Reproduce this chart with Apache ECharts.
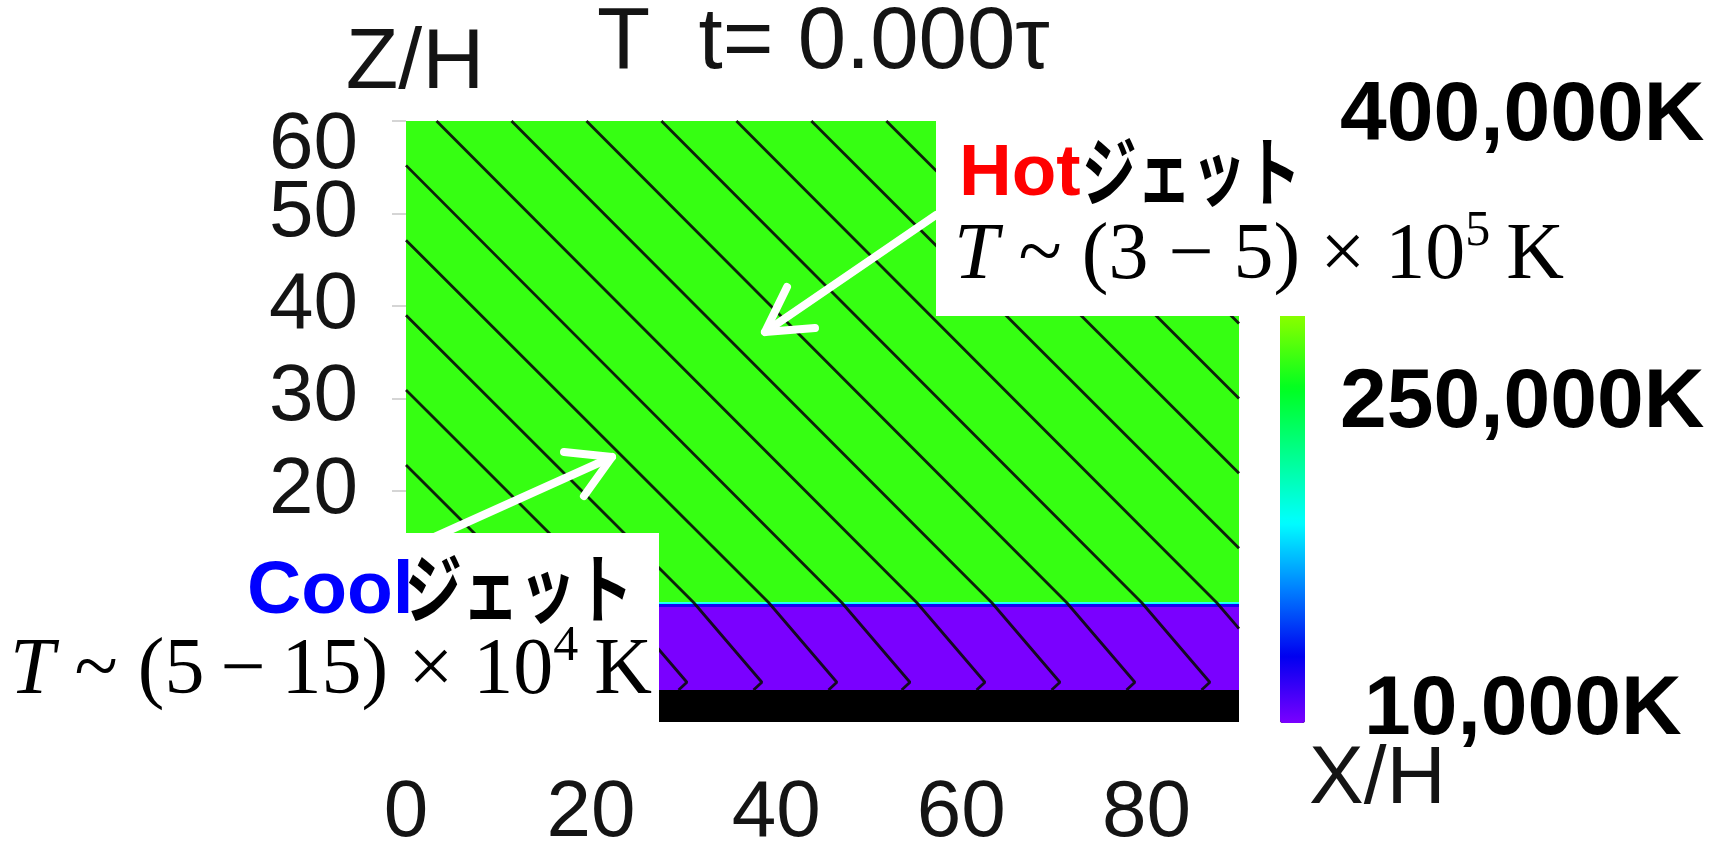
<!DOCTYPE html>
<html>
<head>
<meta charset="utf-8">
<script src="https://cdn.jsdelivr.net/npm/echarts@6/dist/echarts.min.js"></script>
<style>
html,body{margin:0;padding:0;background:#ffffff;}
#chart{width:1711px;height:845px;}
</style>
</head>
<body>
<div id="chart"></div>
<script>
// ---------- data ----------
const xTicks = [0, 20, 40, 60, 80];
const zTicks = [0, 10, 20, 30, 40, 50, 60];
const xRange = [0, 90];
const zRange = [-5, 60];

// horizontal atmosphere layers (Z/H extents) and their temperature (K)
const layerNames   = ['corona', 'transition (upper)', 'transition (lower)', 'chromosphere', 'photosphere'];
const layerTopZ    = [60,     7.95,   7.75,  7.45,  -1.55];
const layerBottomZ = [7.95,   7.75,   7.45,  -1.55, -5];
const layerTempK   = [245000, 140000, 45000, 10000, 6000];

// colour bar range and its labels
const colorbarMinK = 10000;
const colorbarMaxK = 400000;
const colorbarLabels = ['400,000K', '250,000K', '10,000K'];

// magnetic field lines: points [X/H, Z/H]
const fieldLines = [
  [[0, 6.5], [5.9, -0.7], [5.0, -1.55]],
  [[0, 14.7], [6.8, 7.9], [14.15, -0.7], [13.25, -1.55]],
  [[0, 22.8], [14.9, 7.9], [22.25, -0.7], [21.35, -1.55]],
  [[0, 30.9], [23.0, 7.9], [30.35, -0.7], [29.45, -1.55]],
  [[0, 39.0], [31.1, 7.9], [38.45, -0.7], [37.55, -1.55]],
  [[0, 47.1], [39.2, 7.9], [46.55, -0.7], [45.65, -1.55]],
  [[0, 55.2], [47.1, 7.9], [54.45, -0.7], [53.55, -1.55]],
  [[3.3, 60], [55.2, 7.9], [62.55, -0.7], [61.65, -1.55]],
  [[11.4, 60], [63.3, 7.9], [70.65, -0.7], [69.75, -1.55]],
  [[19.5, 60], [71.4, 7.9], [78.75, -0.7], [77.85, -1.55]],
  [[27.6, 60], [79.5, 7.9], [86.85, -0.7], [85.95, -1.55]],
  [[35.7, 60], [87.6, 7.9], [90, 5.1]],
  [[43.8, 60], [90, 13.8]],
  [[51.9, 60], [90, 21.9]],
  [[60.0, 60], [90, 30.0]],
  [[68.1, 60], [90, 38.1]],
  [[76.2, 60], [90, 46.2]],
  [[84.3, 60], [90, 54.3]]
];

// ---------- chart ----------
const chart = echarts.init(document.getElementById('chart'), null, {renderer: 'canvas'});
const SANS = 'Liberation Sans, Arial, Helvetica, sans-serif';
const SERIF = 'Liberation Serif, Times New Roman, serif';
const CJK = 'Noto Sans CJK JP, sans-serif';
const INK = '#141414';

const layerData = layerTopZ.map((top, i) => ({
  name: layerNames[i],
  value: [xRange[0], xRange[1], top, layerBottomZ[i], layerTempK[i]]
}));

const lineSeries = fieldLines.map((pts, i) => ({
  type: 'line',
  name: 'field line ' + (i + 1),
  data: pts,
  yAxisIndex: 0,
  showSymbol: false,
  symbol: 'none',
  clip: true,
  silent: true,
  z: 3,
  lineStyle: {color: '#0a0a0a', width: 2.8, opacity: 0.9}
}));

function labelStyle(size) {
  return {fontFamily: SANS, fontSize: size, color: INK};
}

function formulaText(x, y, text) {
  return {
    type: 'text', z: 102, x: x, y: y,
    style: {
      x: 0, y: 0, text: text, fill: '#000000', font: '80px ' + SERIF,
      lineHeight: 100, textVerticalAlign: 'middle',
      rich: {
        i: {fontFamily: SERIF, fontStyle: 'italic', fontSize: 80, lineHeight: 100, color: '#000'},
        s: {fontFamily: SERIF, fontSize: 50, lineHeight: 50, color: '#000', verticalAlign: 'top'}
      }
    }
  };
}

const zTicksLower = zTicks.filter(v => v < zRange[1]);
const zTicksTop = zTicks.filter(v => v === zRange[1]);

const option = {
  backgroundColor: '#ffffff',
  animation: false,
  title: {
    text: 'T  t= 0.000τ',
    left: 597,
    top: 1,
    padding: 0,
    textStyle: {fontFamily: SANS, fontSize: 87, fontWeight: 'normal', color: INK}
  },
  grid: {left: 406, top: 121, width: 833, height: 601, containLabel: false, outerBoundsMode: 'none'},
  xAxis: {
    type: 'value',
    min: xRange[0],
    max: xRange[1],
    axisLine: {show: false},
    splitLine: {show: false},
    axisTick: {show: true, customValues: xTicks, length: 12, lineStyle: {color: '#d5d5d5', width: 2}},
    axisLabel: Object.assign(labelStyle(80), {customValues: xTicks, margin: 52, showMinLabel: true, showMaxLabel: true, hideOverlap: false})
  },
  yAxis: [
    {
      type: 'value',
      min: zRange[0],
      max: zRange[1],
      position: 'left',
      name: 'Z/H',
      nameLocation: 'end',
      nameGap: 14,
      nameMoveOverlap: false,
      nameTextStyle: Object.assign(labelStyle(86), {padding: [0, 0, 0, 18]}),
      axisLine: {show: false},
      splitLine: {show: false},
      axisTick: {show: true, customValues: zTicks, length: 14, lineStyle: {color: '#d5d5d5', width: 2}},
      axisLabel: Object.assign(labelStyle(80), {
        customValues: zTicksLower, margin: 48, showMinLabel: true, showMaxLabel: true, hideOverlap: false
      })
    },
    {
      // top label of the same Z/H axis (drawn separately so it sits just inside the frame)
      type: 'value',
      min: zRange[0],
      max: zRange[1],
      position: 'left',
      offset: 0,
      axisLine: {show: false},
      splitLine: {show: false},
      axisTick: {show: false},
      axisLabel: Object.assign(labelStyle(80), {
        customValues: zTicksTop,
        margin: 48,
        showMinLabel: true,
        showMaxLabel: true,
        hideOverlap: false,
        formatter: function (v) { return '{top|' + v + '}'; },
        rich: {top: {fontFamily: SANS, fontSize: 80, color: INK, padding: [50, 0, 0, 0]}}
      })
    }
  ],
  visualMap: {
    type: 'continuous',
    min: colorbarMinK,
    max: colorbarMaxK,
    dimension: 4,
    seriesIndex: 0,
    orient: 'vertical',
    left: 1280,
    top: 121,
    padding: 0,
    itemWidth: 25,
    itemHeight: 602,
    calculable: false,
    hoverLink: false,
    showLabel: false,
    text: null,
    inRange: {color: ['#7a00ff', '#0000f0', '#0080ff', '#00ffff', '#00ff90', '#00ff20', '#80ff00', '#d0ff00', '#ffd000', '#ff4000']},
    outOfRange: {color: ['#000000']}
  },
  series: [
    {
      type: 'custom',
      name: 'temperature',
      coordinateSystem: 'cartesian2d',
      yAxisIndex: 0,
      data: layerData,
      encode: {x: [0, 1], y: [2, 3]},
      clip: true,
      silent: true,
      z: 1,
      renderItem: function (params, api) {
        const p1 = api.coord([api.value(0), api.value(2)]);
        const p2 = api.coord([api.value(1), api.value(3)]);
        const t = api.value(4);
        const fill = (t < colorbarMinK) ? '#000000' : api.visual('color');
        return {
          type: 'rect',
          shape: {x: p1[0], y: p1[1], width: p2[0] - p1[0], height: p2[1] - p1[1]},
          style: {fill: fill}
        };
      }
    }
  ].concat(lineSeries),
  graphic: [
    // annotation boxes
    {type: 'rect', z: 100, shape: {x: 0, y: 533, width: 659, height: 200}, style: {fill: '#ffffff'}},
    {type: 'rect', z: 100, shape: {x: 936, y: 115, width: 377, height: 201}, style: {fill: '#ffffff'}},
    // arrows
    {type: 'polyline', z: 101, shape: {points: [[936, 215], [765, 332]]},
      style: {stroke: '#ffffff', lineWidth: 8, lineCap: 'round', fill: null}},
    {type: 'polyline', z: 101, shape: {points: [[787, 287], [765, 332], [815, 328]]},
      style: {stroke: '#ffffff', lineWidth: 8, lineCap: 'round', lineJoin: 'round', fill: null}},
    {type: 'polyline', z: 99, shape: {points: [[430, 539], [612, 457]]},
      style: {stroke: '#ffffff', lineWidth: 8, lineCap: 'round', fill: null}},
    {type: 'polyline', z: 101, shape: {points: [[564, 452], [612, 457], [584, 496]]},
      style: {stroke: '#ffffff', lineWidth: 8, lineCap: 'round', lineJoin: 'round', fill: null}},
    // Hot label
    {type: 'text', z: 102, x: 959, y: 175,
      style: {x: 0, y: 0, text: 'Hot', fill: '#ff0000', font: 'bold 73px ' + SANS, textVerticalAlign: 'middle'}},
    {type: 'text', z: 102, x: 1082, y: 171, scaleX: 0.72,
      style: {x: 0, y: 0, text: 'ジェット', fill: '#000000', font: 'bold 76px ' + CJK, textVerticalAlign: 'middle'}},
    formulaText(954, 257, '{i|T} ~ (3 − 5) × 10{s|5}\u2009K'),
    // Cool label
    {type: 'text', z: 102, x: 247, y: 592,
      style: {x: 0, y: 0, text: 'Cool', fill: '#0000ff', font: 'bold 75px ' + SANS, textVerticalAlign: 'middle'}},
    {type: 'text', z: 102, x: 405, y: 588, scaleX: 0.75,
      style: {x: 0, y: 0, text: 'ジェット', fill: '#000000', font: 'bold 76px ' + CJK, textVerticalAlign: 'middle'}},
    formulaText(10, 672, '{i|T} ~ (5\u2009−\u200915) × 10{s|4}\u2009K'),
    // horizontal axis name
    {type: 'text', z: 102, x: 1309, y: 780,
      style: {x: 0, y: 0, text: 'X/H', fill: INK, font: '82px ' + SANS, textVerticalAlign: 'middle'}},
    // colour bar labels
    {type: 'text', z: 102, x: 1340, y: 117,
      style: {x: 0, y: 0, text: colorbarLabels[0], fill: '#000', font: 'bold 84px ' + SANS, textVerticalAlign: 'middle'}},
    {type: 'text', z: 102, x: 1340, y: 404,
      style: {x: 0, y: 0, text: colorbarLabels[1], fill: '#000', font: 'bold 84px ' + SANS, textVerticalAlign: 'middle'}},
    {type: 'text', z: 102, x: 1364, y: 711,
      style: {x: 0, y: 0, text: colorbarLabels[2], fill: '#000', font: 'bold 84px ' + SANS, textVerticalAlign: 'middle'}}
  ]
};

chart.setOption(option);
</script>
</body>
</html>
